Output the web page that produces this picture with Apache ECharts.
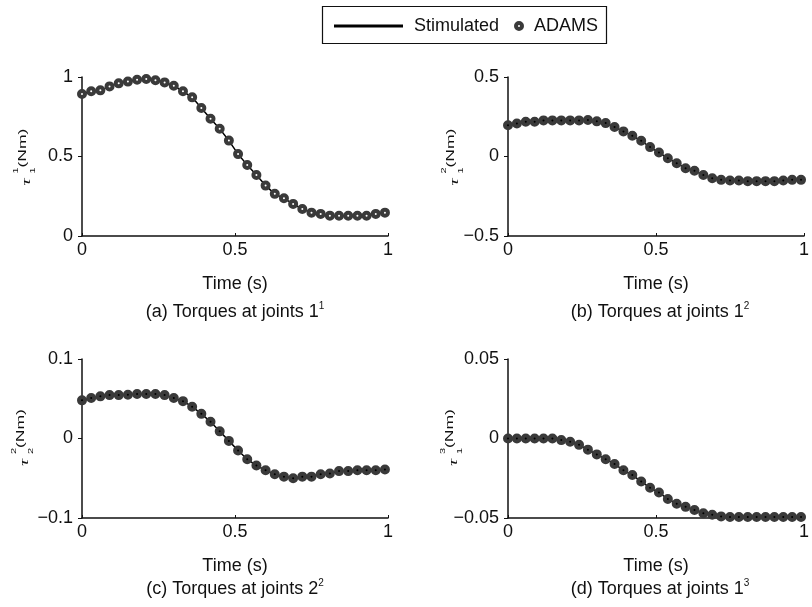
<!DOCTYPE html>
<html>
<head>
<meta charset="utf-8">
<script src="https://cdn.jsdelivr.net/npm/echarts@6/dist/echarts.min.js"></script>
<style>
  html, body { margin: 0; padding: 0; background: #fff; }
  #chart { width: 812px; height: 607px; }
</style>
</head>
<body>
<div id="chart"></div>
<script>
// Sample times (s): 0 to 0.99 in steps of 0.03
const time = [0, 0.03, 0.06, 0.09, 0.12, 0.15, 0.18, 0.21, 0.24, 0.27, 0.30, 0.33,
  0.36, 0.39, 0.42, 0.45, 0.48, 0.51, 0.54, 0.57, 0.60, 0.63, 0.66, 0.69, 0.72,
  0.75, 0.78, 0.81, 0.84, 0.87, 0.90, 0.93, 0.96, 0.99];

// Joint torques (Nm); the simulated curve and the ADAMS samples coincide
const tau11 = [0.893, 0.910, 0.916, 0.941, 0.960, 0.971, 0.983, 0.987, 0.979, 0.966,
  0.945, 0.910, 0.872, 0.805, 0.737, 0.675, 0.600, 0.515, 0.447, 0.384, 0.317,
  0.265, 0.237, 0.202, 0.170, 0.147, 0.139, 0.128, 0.127, 0.127, 0.127, 0.127,
  0.139, 0.147];
const tau12 = [0.197, 0.208, 0.218, 0.218, 0.227, 0.227, 0.227, 0.227, 0.227, 0.229,
  0.221, 0.210, 0.185, 0.158, 0.130, 0.099, 0.059, 0.025, -0.011, -0.042, -0.074,
  -0.090, -0.116, -0.137, -0.147, -0.151, -0.151, -0.155, -0.155, -0.155, -0.155,
  -0.151, -0.147, -0.147];
const tau22 = [0.048, 0.051, 0.053, 0.0546, 0.0546, 0.055, 0.056, 0.056, 0.056, 0.0546,
  0.051, 0.047, 0.040, 0.031, 0.021, 0.009, -0.003, -0.015, -0.026, -0.034, -0.040,
  -0.045, -0.048, -0.050, -0.048, -0.048, -0.045, -0.044, -0.041, -0.041, -0.040,
  -0.040, -0.040, -0.039];
const tau13 = [0, 0, 0, 0, 0, 0, -0.001, -0.002, -0.004, -0.007, -0.010, -0.013,
  -0.016, -0.020, -0.023, -0.027, -0.031, -0.034, -0.038, -0.041, -0.043, -0.045,
  -0.047, -0.048, -0.049, -0.0494, -0.0494, -0.0494, -0.0494, -0.0494, -0.0494,
  -0.0494, -0.0494, -0.0494];

// Y-axis ranges and tick step per panel
const yMins = [0, -0.5, -0.1, -0.05];
const yMaxs = [1, 0.5, 0.1, 0.05];
const ySteps = [0.5, 0.5, 0.1, 0.05];

// Axis-title scripts (superscript, subscript) and panel captions
const ySups = ['1', '2', '2', '3'];
const ySubs = ['1', '1', '2', '1'];
const captions = ['(a) Torques at joints 1', '(b) Torques at joints 1',
  '(c) Torques at joints 2', '(d) Torques at joints 1'];
const captionSups = ['1', '2', '2', '3'];

const seriesNames = ['Stimulated', 'ADAMS'];
const panelData = [tau11, tau12, tau22, tau13];

const FONT = "'Liberation Sans', Arial, sans-serif";
const INK = '#111';
const MARK = '#3a3a3a';

const grids = [
  { left: 82, top: 77, width: 306, height: 159 },
  { left: 508, top: 77, width: 304, height: 159 },
  { left: 82, top: 359, width: 306, height: 159 },
  { left: 508, top: 359, width: 304, height: 159 }
];

function fmt(v) {
  const r = Math.round(v * 1000) / 1000;
  return r < 0 ? '\u2212' + String(-r) : String(r);
}

const xAxes = grids.map((g, i) => ({
  gridIndex: i, type: 'value', min: 0, max: 1, interval: 0.5,
  name: 'Time (s)', nameLocation: 'middle', nameGap: 39,
  nameTextStyle: { fontFamily: FONT, fontSize: 18, color: INK },
  axisLine: { onZero: false, lineStyle: { color: INK, width: 1.5 } },
  axisTick: { inside: true, length: 3, lineStyle: { color: INK } },
  axisLabel: { margin: 5, fontFamily: FONT, fontSize: 18, color: INK, formatter: fmt },
  splitLine: { show: false }
}));

const yAxes = grids.map((g, i) => ({
  gridIndex: i, type: 'value', min: yMins[i], max: yMaxs[i], interval: ySteps[i],
  axisLine: { onZero: false, lineStyle: { color: INK, width: 1.5 } },
  axisTick: { inside: false, length: 4, lineStyle: { color: INK } },
  axisLabel: { margin: 9, fontFamily: FONT, fontSize: 18, color: INK, formatter: fmt },
  splitLine: { show: false }
}));

const series = [];
panelData.forEach((vals, i) => {
  const pts = time.map((t, k) => [t, vals[k]]);
  series.push({
    name: seriesNames[0], type: 'line', xAxisIndex: i, yAxisIndex: i,
    data: pts, symbol: 'none', smooth: false,
    lineStyle: { color: '#000', width: 1.5 }, itemStyle: { color: '#000' }, z: 2
  });
  series.push({
    name: seriesNames[1], type: 'scatter', xAxisIndex: i, yAxisIndex: i,
    data: pts, symbol: 'circle', symbolSize: 6,
    itemStyle: { color: i === 0 ? '#fff' : '#000', borderColor: MARK, borderWidth: 4, opacity: 1 },
    z: 3
  });
});

// Rotated y-axis titles: tau with stacked super/subscripts, then (Nm)
const yTitlePos = [[25, 156.5], [453, 156.5], [23, 437], [452, 437]];
const SQ = 0.65; // glyph-height squeeze across the rotated title
const graphics = [];
yTitlePos.forEach((p, i) => {
  graphics.push({
    type: 'group', x: p[0], y: p[1], rotation: Math.PI / 2, scaleY: SQ,
    children: [
      { type: 'text', x: -29, y: 2 / SQ, style: { text: '\u03c4', fontFamily: "'Liberation Serif', serif",
          fontStyle: 'italic', fontSize: 20, fill: INK, align: 'left', verticalAlign: 'middle' } },
      { type: 'text', x: -17, y: -9 / SQ, style: { text: ySups[i], fontFamily: FONT,
          fontSize: 11, fill: INK, align: 'left', verticalAlign: 'middle' } },
      { type: 'text', x: -17, y: 8.5 / SQ, style: { text: ySubs[i], fontFamily: FONT,
          fontSize: 11, fill: INK, align: 'left', verticalAlign: 'middle' } },
      { type: 'text', x: -11, y: -2 / SQ, style: { text: '(Nm)', fontFamily: FONT,
          fontSize: 17.5, fill: INK, align: 'left', verticalAlign: 'middle' } }
    ]
  });
});

// Panel captions under each x-axis title
const captionPos = [[235, 312], [660, 312], [235, 589], [660, 589]];
captionPos.forEach((p, i) => {
  graphics.push({
    type: 'text', x: p[0], y: p[1],
    style: {
      text: captions[i] + '{s|' + captionSups[i] + '}',
      fontFamily: FONT, fontSize: 18, fill: INK, align: 'center', verticalAlign: 'middle',
      rich: { s: { fontFamily: FONT, fontSize: 10, fill: INK, verticalAlign: 'top', lineHeight: 22 } }
    }
  });
});

// Legend frame
graphics.push({
  type: 'rect', shape: { x: 322.5, y: 6.5, width: 284, height: 37 },
  style: { fill: 'none', stroke: INK, lineWidth: 1.2 }, z: 0
});

const option = {
  animation: false,
  backgroundColor: '#fff',
  grid: grids.map(g => Object.assign({ containLabel: false }, g)),
  xAxis: xAxes,
  yAxis: yAxes,
  legend: [
    { data: [{ name: seriesNames[0], icon: 'rect', itemStyle: { color: '#000' } }],
      left: 334, top: 17, padding: 0, itemWidth: 69, itemHeight: 3,
      itemGap: 0, textStyle: { fontFamily: FONT, fontSize: 18, color: INK, padding: [0, 0, 0, 6] } },
    { data: [{ name: seriesNames[1], icon: 'circle',
        itemStyle: { color: '#fff', borderColor: MARK, borderWidth: 4 } }],
      left: 514, top: 17, padding: 0, itemWidth: 6, itemHeight: 6,
      itemGap: 0, textStyle: { fontFamily: FONT, fontSize: 18, color: INK, padding: [0, 0, 0, 7] } }
  ],
  graphic: graphics,
  series: series
};

const chart = echarts.init(document.getElementById('chart'), null, { renderer: 'canvas' });
chart.setOption(option);
</script>
</body>
</html>
